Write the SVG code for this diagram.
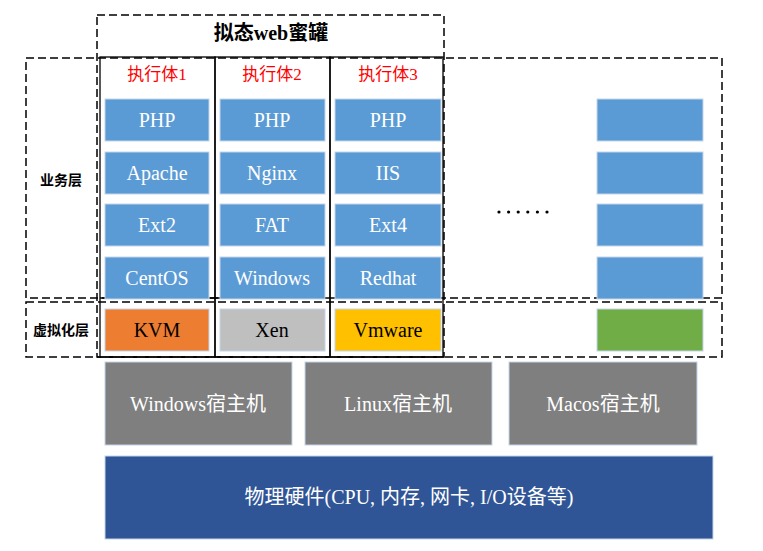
<svg xmlns="http://www.w3.org/2000/svg" width="763" height="551" viewBox="0 0 763 551">
<style>
.dash{fill:none;stroke:#000;stroke-width:1.5;stroke-dasharray:8,4}
.col{fill:none;stroke:#000;stroke-width:1.3}
.box{stroke:#C5D5EA;stroke-width:1}
.blue{fill:#5B9BD5}
.t{font-family:"Liberation Serif","Noto Sans CJK SC",serif;font-size:20px;text-anchor:middle}
.w{fill:#fff}
.k{fill:#000}
.red{fill:#FF0000;font-size:17px}
.lbl{font-family:"Noto Sans CJK SC","Liberation Sans",sans-serif;font-weight:bold;font-size:14px;text-anchor:middle;fill:#000}
</style>

<g id="mimic-web-honeypot">
<rect class="dash" x="97" y="15" width="347" height="342"/>
<text class="t k" x="271" y="40" font-weight="bold" font-size="20">拟态web蜜罐</text>
</g>

<g id="business-layer">
<rect class="dash" x="26" y="58" width="696" height="240"/>
<text class="lbl" x="61" y="185">业务层</text>
</g>

<g id="virtualization-layer">
<rect class="dash" x="26" y="302" width="696" height="55"/>
<text class="lbl" x="61" y="335">虚拟化层</text>
</g>

<g id="executor1">
<rect class="col" x="100" y="57" width="115" height="300"/>
<line class="col" x1="100" y1="298" x2="215" y2="298"/>
<text class="t red" x="157" y="80">执行体1</text>
<rect class="box blue" x="105" y="99" width="104" height="42"/>
<text class="t w" x="157" y="127">PHP</text>
<rect class="box blue" x="105" y="152" width="104" height="42"/>
<text class="t w" x="157" y="180">Apache</text>
<rect class="box blue" x="105" y="204" width="104" height="42"/>
<text class="t w" x="157" y="232">Ext2</text>
<rect class="box blue" x="105" y="257" width="104" height="42"/>
<text class="t w" x="157" y="285">CentOS</text>
<rect class="box" fill="#ED7D31" x="105" y="309" width="104" height="42"/>
<text class="t k" x="157" y="337">KVM</text>
</g>

<g id="executor2">
<rect class="col" x="215" y="57" width="115" height="300"/>
<line class="col" x1="215" y1="298" x2="330" y2="298"/>
<text class="t red" x="272" y="80">执行体2</text>
<rect class="box blue" x="220" y="99" width="105" height="42"/>
<text class="t w" x="272" y="127">PHP</text>
<rect class="box blue" x="220" y="152" width="105" height="42"/>
<text class="t w" x="272" y="180">Nginx</text>
<rect class="box blue" x="220" y="204" width="105" height="42"/>
<text class="t w" x="272" y="232">FAT</text>
<rect class="box blue" x="220" y="257" width="105" height="42"/>
<text class="t w" x="272" y="285">Windows</text>
<rect class="box" fill="#BFBFBF" x="220" y="309" width="105" height="42"/>
<text class="t k" x="272" y="337">Xen</text>
</g>

<g id="executor3">
<rect class="col" x="330" y="57" width="113" height="300"/>
<text class="t red" x="388" y="80">执行体3</text>
<rect class="box blue" x="335" y="99" width="106" height="42"/>
<text class="t w" x="388" y="127">PHP</text>
<rect class="box blue" x="335" y="152" width="106" height="42"/>
<text class="t w" x="388" y="180">IIS</text>
<rect class="box blue" x="335" y="204" width="106" height="42"/>
<text class="t w" x="388" y="232">Ext4</text>
<rect class="box blue" x="335" y="257" width="106" height="42"/>
<text class="t w" x="388" y="285">Redhat</text>
<rect class="box" fill="#FFC000" x="335" y="309" width="106" height="42"/>
<text class="t k" x="388" y="337">Vmware</text>
</g>

<g id="ellipsis">
<circle cx="499" cy="212" r="1.6"/>
<circle cx="508.6" cy="212" r="1.6"/>
<circle cx="518.2" cy="212" r="1.6"/>
<circle cx="527.8" cy="212" r="1.6"/>
<circle cx="537.4" cy="212" r="1.6"/>
<circle cx="547" cy="212" r="1.6"/>
</g>

<g id="executorN">
<rect class="box blue" x="597" y="99" width="106" height="42"/>
<rect class="box blue" x="597" y="152" width="106" height="42"/>
<rect class="box blue" x="597" y="204" width="106" height="42"/>
<rect class="box blue" x="597" y="257" width="106" height="42"/>
<rect class="box" fill="#70AD47" x="597" y="309" width="106" height="42"/>
</g>

<g id="host-windows">
<rect class="box" fill="#7F7F7F" x="105" y="362" width="187" height="83"/>
<text class="t w" x="198" y="411">Windows宿主机</text>
</g>
<g id="host-linux">
<rect class="box" fill="#7F7F7F" x="305" y="362" width="187" height="83"/>
<text class="t w" x="398" y="411">Linux宿主机</text>
</g>
<g id="host-macos">
<rect class="box" fill="#7F7F7F" x="509" y="362" width="188" height="83"/>
<text class="t w" x="603" y="411">Macos宿主机</text>
</g>

<g id="hardware">
<rect class="box" fill="#2F5597" x="105" y="456" width="608" height="83"/>
<text class="t w" x="409" y="504">物理硬件(CPU, 内存, 网卡, I/O设备等)</text>
</g>

<g id="connectors"></g>
</svg>
